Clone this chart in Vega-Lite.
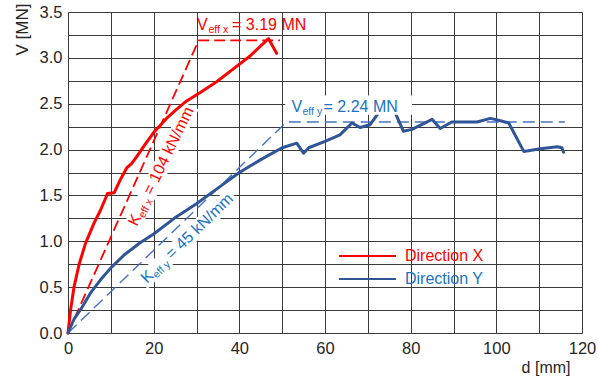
{
  "$schema": "https://vega.github.io/schema/vega-lite/v6.json",
  "width": 514,
  "height": 321,
  "autosize": {"type": "none"},
  "padding": {"left": 68, "top": 12, "right": 16, "bottom": 48},
  "background": "white",
  "config": {
    "view": {"stroke": null},
    "font": "Liberation Sans",
    "text": {"font": "Liberation Sans"}
  },
  "datasets": {
    "curves": [
      {"series": "Direction X", "d": 0, "V": 0},
      {"series": "Direction X", "d": 0.6, "V": 0.25},
      {"series": "Direction X", "d": 1.4, "V": 0.5},
      {"series": "Direction X", "d": 2.6, "V": 0.75},
      {"series": "Direction X", "d": 4.1, "V": 0.98},
      {"series": "Direction X", "d": 6.1, "V": 1.2},
      {"series": "Direction X", "d": 7.5, "V": 1.33},
      {"series": "Direction X", "d": 8.6, "V": 1.45},
      {"series": "Direction X", "d": 9.2, "V": 1.52},
      {"series": "Direction X", "d": 10.8, "V": 1.53},
      {"series": "Direction X", "d": 12.3, "V": 1.68},
      {"series": "Direction X", "d": 13.7, "V": 1.8},
      {"series": "Direction X", "d": 14.9, "V": 1.85},
      {"series": "Direction X", "d": 16, "V": 1.92},
      {"series": "Direction X", "d": 17.6, "V": 2.03},
      {"series": "Direction X", "d": 19.9, "V": 2.18},
      {"series": "Direction X", "d": 23, "V": 2.34},
      {"series": "Direction X", "d": 25.4, "V": 2.44},
      {"series": "Direction X", "d": 27.7, "V": 2.53},
      {"series": "Direction X", "d": 30.8, "V": 2.62},
      {"series": "Direction X", "d": 34.7, "V": 2.74},
      {"series": "Direction X", "d": 38.6, "V": 2.88},
      {"series": "Direction X", "d": 42.5, "V": 3.02},
      {"series": "Direction X", "d": 46.8, "V": 3.21},
      {"series": "Direction X", "d": 48.7, "V": 3.05},
      {"series": "Direction Y", "d": 0, "V": 0},
      {"series": "Direction Y", "d": 1.4, "V": 0.15},
      {"series": "Direction Y", "d": 3, "V": 0.26},
      {"series": "Direction Y", "d": 5.3, "V": 0.44},
      {"series": "Direction Y", "d": 7.6, "V": 0.58},
      {"series": "Direction Y", "d": 10, "V": 0.71},
      {"series": "Direction Y", "d": 13.1, "V": 0.85},
      {"series": "Direction Y", "d": 17, "V": 0.99},
      {"series": "Direction Y", "d": 20, "V": 1.08},
      {"series": "Direction Y", "d": 24.8, "V": 1.25},
      {"series": "Direction Y", "d": 30, "V": 1.41},
      {"series": "Direction Y", "d": 35, "V": 1.58},
      {"series": "Direction Y", "d": 40, "V": 1.75},
      {"series": "Direction Y", "d": 45, "V": 1.89},
      {"series": "Direction Y", "d": 50, "V": 2.02},
      {"series": "Direction Y", "d": 53.4, "V": 2.07},
      {"series": "Direction Y", "d": 55, "V": 1.96},
      {"series": "Direction Y", "d": 56.2, "V": 2.02},
      {"series": "Direction Y", "d": 60, "V": 2.09},
      {"series": "Direction Y", "d": 63.5, "V": 2.16},
      {"series": "Direction Y", "d": 66.3, "V": 2.29},
      {"series": "Direction Y", "d": 68.2, "V": 2.24},
      {"series": "Direction Y", "d": 70.5, "V": 2.27},
      {"series": "Direction Y", "d": 72.5, "V": 2.4},
      {"series": "Direction Y", "d": 74.5, "V": 2.55},
      {"series": "Direction Y", "d": 76.4, "V": 2.4},
      {"series": "Direction Y", "d": 78.3, "V": 2.2},
      {"series": "Direction Y", "d": 80.3, "V": 2.22},
      {"series": "Direction Y", "d": 84.2, "V": 2.31},
      {"series": "Direction Y", "d": 85, "V": 2.33},
      {"series": "Direction Y", "d": 86.9, "V": 2.23},
      {"series": "Direction Y", "d": 89.6, "V": 2.3},
      {"series": "Direction Y", "d": 95.5, "V": 2.3},
      {"series": "Direction Y", "d": 98.6, "V": 2.34},
      {"series": "Direction Y", "d": 100.5, "V": 2.32},
      {"series": "Direction Y", "d": 102.9, "V": 2.29},
      {"series": "Direction Y", "d": 106.4, "V": 1.98},
      {"series": "Direction Y", "d": 110.3, "V": 2.01},
      {"series": "Direction Y", "d": 114.2, "V": 2.03},
      {"series": "Direction Y", "d": 115.3, "V": 2.02},
      {"series": "Direction Y", "d": 115.7, "V": 1.97}
    ],
    "bilinear": [
      {"series": "X", "d": 0, "V": 0},
      {"series": "X", "d": 30.5, "V": 3.19},
      {"series": "X", "d": 49.5, "V": 3.19},
      {"series": "Y", "d": 0, "V": 0},
      {"series": "Y", "d": 51, "V": 2.3},
      {"series": "Y", "d": 116, "V": 2.3}
    ],
    "bands": [
      {"label": "Kx", "d": 14.85, "V": 1.15},
      {"label": "Kx", "d": 28.72, "V": 2.478},
      {"label": "Ky", "d": 17.21, "V": 0.549},
      {"label": "Ky", "d": 38.48, "V": 1.508}
    ],
    "mask": [
      {"d": 50.7, "d2": 80.3, "V": 2.38, "V2": 2.59}
    ],
    "labels": [
      {"series": "X", "group": "peak", "role": "main", "d": 30.12, "V": 3.304, "text": "V"},
      {"series": "X", "group": "peak", "role": "sub", "d": 32.8, "V": 3.271, "text": "eff x"},
      {"series": "X", "group": "peak", "role": "main", "d": 38.29, "V": 3.304, "text": "= 3.19 MN"},
      {"series": "Y", "group": "peak", "role": "main", "d": 52.18, "V": 2.415, "text": "V"},
      {"series": "Y", "group": "peak", "role": "sub", "d": 54.75, "V": 2.382, "text": "eff y"},
      {"series": "Y", "group": "peak", "role": "main", "d": 59.65, "V": 2.415, "text": "= 2.24 MN"},
      {"series": "X", "group": "stiff", "role": "main", "d": 16.11, "V": 1.156, "text": "K"},
      {"series": "X", "group": "stiff", "role": "sub", "d": 17.83, "V": 1.246, "text": "eff x"},
      {"series": "X", "group": "stiff", "role": "main", "d": 19.63, "V": 1.494, "text": "= 104 kN/mm"},
      {"series": "Y", "group": "stiff", "role": "main", "d": 18.44, "V": 0.534, "text": "K"},
      {"series": "Y", "group": "stiff", "role": "sub", "d": 20.73, "V": 0.592, "text": "eff y"},
      {"series": "Y", "group": "stiff", "role": "main", "d": 24.24, "V": 0.796, "text": "= 45 kN/mm"}
    ]
  },
  "encoding": {
    "x": {
      "field": "d", "type": "quantitative",
      "scale": {"domain": [0, 120], "nice": false, "zero": false},
      "title": "d [mm]",
      "axis": {
        "values": [0, 10, 20, 30, 40, 50, 60, 70, 80, 90, 100, 110, 120],
        "format": "d",
        "labelExpr": "datum.value % 20 === 0 ? datum.label : ''",
        "grid": true, "gridColor": "#3a3a3a", "gridWidth": 1, "gridOpacity": 1,
        "ticks": false, "tickSize": 0, "domain": false,
        "labelPadding": 7, "labelFontSize": 16.5, "labelColor": "#262626",
        "labelFont": "Liberation Sans",
        "labelFlush": false, "labelOverlap": false, "labelAngle": 0,
        "titleX": 502, "titleY": 39, "titleAlign": "right", "titleBaseline": "alphabetic",
        "titleFontSize": 16, "titleFontWeight": "normal", "titleColor": "#262626",
        "titleFont": "Liberation Sans"
      }
    },
    "y": {
      "field": "V", "type": "quantitative",
      "scale": {"domain": [0, 3.5], "nice": false},
      "title": "V [MN]",
      "axis": {
        "values": [0, 0.25, 0.5, 0.75, 1, 1.25, 1.5, 1.75, 2, 2.25, 2.5, 2.75, 3, 3.25, 3.5],
        "labelExpr": "datum.value % 0.5 === 0 ? format(datum.value, '.1f') : ''",
        "grid": true, "gridColor": "#3a3a3a", "gridWidth": 1, "gridOpacity": 1,
        "ticks": false, "tickSize": 0, "domain": false,
        "labelPadding": 6, "labelFontSize": 16.5, "labelColor": "#262626",
        "labelFont": "Liberation Sans",
        "labelFlush": false, "labelOverlap": false,
        "titleX": -41, "titleY": -9, "titleAlign": "right", "titleBaseline": "alphabetic",
        "titleAngle": -90,
        "titleFontSize": 17, "titleFontWeight": "normal", "titleColor": "#262626",
        "titleFont": "Liberation Sans"
      }
    }
  },
  "layer": [
    {
      "data": {"name": "bands"},
      "mark": {"type": "line", "color": "white", "strokeWidth": 17, "strokeCap": "butt"},
      "encoding": {"detail": {"field": "label"}}
    },
    {
      "data": {"name": "bilinear"},
      "transform": [{"filter": "datum.series === 'X'"}],
      "mark": {"type": "line", "color": "#ff0000", "strokeWidth": 1.8, "strokeDash": [11, 5]},
      "encoding": {}
    },
    {
      "data": {"name": "bilinear"},
      "transform": [{"filter": "datum.series === 'Y'"}],
      "mark": {"type": "line", "color": "#4472c4", "strokeWidth": 1.4, "strokeDash": [12, 6]},
      "encoding": {}
    },
    {
      "data": {"name": "curves"},
      "mark": {"type": "line", "strokeWidth": 3, "strokeJoin": "round", "strokeCap": "round"},
      "encoding": {
        "color": {
          "field": "series", "type": "nominal",
          "scale": {"domain": ["Direction X", "Direction Y"], "range": ["#ff0000", "#2f5597"]},
          "legend": {
            "title": null, "orient": "none", "legendX": 270, "legendY": 232.5,
            "symbolType": "stroke", "symbolSize": 3249, "symbolStrokeWidth": 2,
            "clipHeight": 23, "rowPadding": 0, "padding": 0, "symbolOffset": 0,
            "labelFontSize": 16, "labelFont": "Liberation Sans", "labelOffset": 8, "labelLimit": 200,
            "encode": {
              "labels": {"update": {"fill": {"signal": "datum.value === 'Direction X' ? '#ff0000' : '#1a73c4'"}}},
              "symbols": {"update": {"stroke": {"signal": "datum.value === 'Direction X' ? '#ff0000' : '#4a78c8'"}}}
            }
          }
        }
      }
    },
    {
      "data": {"name": "mask"},
      "mark": {"type": "rect", "color": "white"},
      "encoding": {"x2": {"field": "d2"}, "y2": {"field": "V2"}}
    },
    {
      "data": {"name": "labels"},
      "transform": [{"filter": "datum.group === 'peak' && datum.role === 'main'"}],
      "mark": {"type": "text", "align": "left", "baseline": "alphabetic", "fontSize": 16},
      "encoding": {
        "text": {"field": "text"},
        "color": {"condition": {"test": "datum.series === 'X'", "value": "#ff0000"}, "value": "#1a73c4"}
      }
    },
    {
      "data": {"name": "labels"},
      "transform": [{"filter": "datum.group === 'peak' && datum.role === 'sub'"}],
      "mark": {"type": "text", "align": "left", "baseline": "alphabetic", "fontSize": 10.5},
      "encoding": {
        "text": {"field": "text"},
        "color": {"condition": {"test": "datum.series === 'X'", "value": "#ff0000"}, "value": "#1a73c4"}
      }
    },
    {
      "data": {"name": "labels"},
      "transform": [{"filter": "datum.group === 'stiff' && datum.series === 'X' && datum.role === 'main'"}],
      "mark": {"type": "text", "align": "left", "baseline": "alphabetic", "fontSize": 16, "angle": -64, "color": "#ff0000"},
      "encoding": {"text": {"field": "text"}}
    },
    {
      "data": {"name": "labels"},
      "transform": [{"filter": "datum.group === 'stiff' && datum.series === 'X' && datum.role === 'sub'"}],
      "mark": {"type": "text", "align": "left", "baseline": "alphabetic", "fontSize": 10.5, "angle": -64, "color": "#ff0000"},
      "encoding": {"text": {"field": "text"}}
    },
    {
      "data": {"name": "labels"},
      "transform": [{"filter": "datum.group === 'stiff' && datum.series === 'Y' && datum.role === 'main'"}],
      "mark": {"type": "text", "align": "left", "baseline": "alphabetic", "fontSize": 16, "angle": -44, "color": "#1a73c4"},
      "encoding": {"text": {"field": "text"}}
    },
    {
      "data": {"name": "labels"},
      "transform": [{"filter": "datum.group === 'stiff' && datum.series === 'Y' && datum.role === 'sub'"}],
      "mark": {"type": "text", "align": "left", "baseline": "alphabetic", "fontSize": 10.5, "angle": -44, "color": "#1a73c4"},
      "encoding": {"text": {"field": "text"}}
    }
  ]
}
